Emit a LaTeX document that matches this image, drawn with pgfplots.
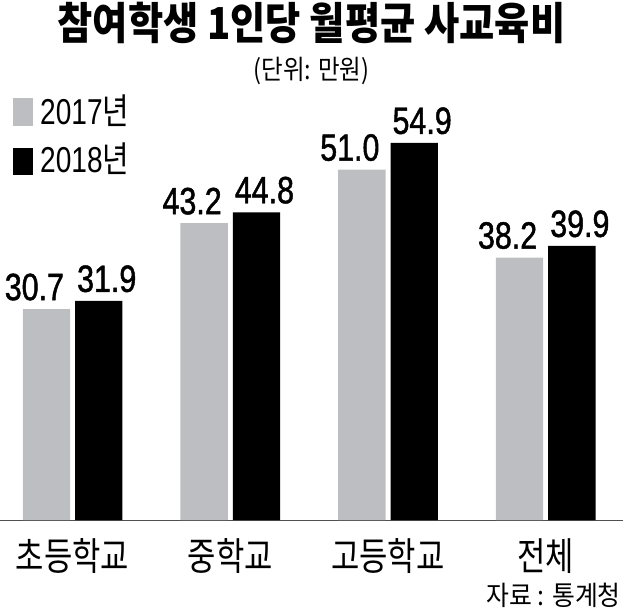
\documentclass[border=0pt]{standalone}
\usepackage{fontspec}
\usepackage{pgfplots}
\pgfplotsset{compat=1.18}
\setmainfont{Noto Sans CJK KR}
\newfontfamily\krA[FakeStretch=0.87]{Noto Sans CJK KR}
\newfontfamily\krB[FakeStretch=0.8]{Noto Sans CJK KR}
\newfontfamily\krC[FakeStretch=0.87]{Noto Sans CJK KR}
\newfontfamily\krD[FakeStretch=0.92]{Noto Sans CJK KR}
\newfontfamily\krL[FakeStretch=0.8]{Noto Sans CJK KR}
\newfontfamily\num[FakeStretch=0.8,FakeBold=1.2]{Liberation Sans}
\newfontfamily\numL[FakeStretch=0.78]{Liberation Sans}
\definecolor{barGray}{RGB}{189,190,193}
\definecolor{lineGray}{RGB}{80,80,80}
\begin{document}
\begin{tikzpicture}
\useasboundingbox (0,-90pt) rectangle (623pt,520pt);
\begin{axis}[
  at={(0,0)}, anchor=south west,
  scale only axis, width=623pt, height=520pt,
  xmin=-0.46, xmax=3.49, ymin=0, ymax=75.7,
  axis x line=bottom, axis y line=none,
  x axis line style={draw=lineGray, line width=1pt, -},
  xtick style={draw=none},
  ytick=\empty,
  xtick={0,1,2,3},
  xticklabels={초등학교,중학교,고등학교,전체},
  xticklabel style={font=\krB\fontsize{38.5}{42}\selectfont, anchor=base, inner sep=0pt, yshift=-46pt},
  ybar=5pt, bar width=47.3pt,
  clip=false,
  point meta=explicit symbolic,
  nodes near coords,
  every node near coord/.append style={font=\num\fontsize{38}{42}\selectfont, anchor=base, inner sep=0pt, yshift=9pt, text=black},
]
\addplot[fill=barGray, draw=none, nodes near coords style={xshift=-12pt}] coordinates {(0,30.7)[30.7] (1,43.2)[43.2] (2,51.0)[51.0] (3,38.2)[38.2]};
\addplot[fill=black, draw=none, nodes near coords style={xshift=8pt}] coordinates {(0,31.9)[31.9] (1,44.8)[44.8] (2,54.9)[54.9] (3,39.9)[39.9]};
\end{axis}
% title
\node[anchor=base, inner sep=0pt] at (311.5pt,480pt) {\krA\bfseries\fontsize{44}{50}\selectfont 참여학생 1인당 월평균 사교육비};
\node[anchor=base, inner sep=0pt] at (311.5pt,440pt) {\krC\fontsize{27}{30}\selectfont (단위: 만원)};
% legend
\fill[barGray] (13pt,394pt) rectangle (33pt,422pt);
\fill[black] (13pt,345pt) rectangle (33pt,372pt);
\node[anchor=base west, inner sep=0pt] at (40pt,395pt) {\fontsize{36}{40}\selectfont{\numL 2017}\krL 년};
\node[anchor=base west, inner sep=0pt] at (40pt,347pt) {\fontsize{36}{40}\selectfont{\numL 2018}\krL 년};
% source
\node[anchor=base east, inner sep=0pt] at (621pt,-85pt) {\krD\fontsize{27}{30}\selectfont 자료 : 통계청};
\end{tikzpicture}
\end{document}
